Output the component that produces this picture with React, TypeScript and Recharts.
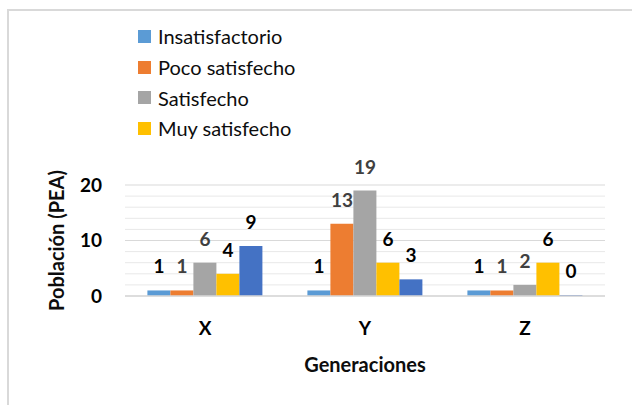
import * as React from "react";
import { BarChart, Bar, XAxis, YAxis, CartesianGrid, LabelList, Legend } from "recharts";

const generations = ["X", "Y", "Z"];
const insatisfactorio = [1, 1, 1];
const pocoSatisfecho = [1, 13, 1];
const satisfecho = [6, 19, 2];
const muySatisfecho = [4, 6, 6];
const sinNombre = [9, 3, 0];

const yDomain = [0, 20];
const yTicks = [0, 10, 20];
const minorTicks = [2, 4, 6, 8, 12, 14, 16, 18];

const FONT = "Lato, 'Open Sans', sans-serif";

const series = [
  { key: "ins", name: "Insatisfactorio", values: insatisfactorio, color: "#5B9BD5", label: "#000000", legend: true },
  { key: "poco", name: "Poco satisfecho", values: pocoSatisfecho, color: "#ED7D31", label: "#404040", legend: true },
  { key: "sat", name: "Satisfecho", values: satisfecho, color: "#A5A5A5", label: "#404040", legend: true },
  { key: "muy", name: "Muy satisfecho", values: muySatisfecho, color: "#FFC000", label: "#000000", legend: true },
  { key: "otro", name: "", values: sinNombre, color: "#4472C4", label: "#000000", legend: false }
];

const data = generations.map((g, i) => {
  const row: Record<string, string | number> = { gen: g };
  series.forEach(s => {
    row[s.key] = s.values[i];
  });
  return row;
});

const LegendBox = () => (
  <div style={{ fontFamily: FONT, fontSize: 20, color: "#0d0d0d" }}>
    {series
      .filter(s => s.legend)
      .map(s => (
        <div key={s.key} style={{ display: "flex", alignItems: "center", height: 30.7 }}>
          <span style={{ width: 13, height: 13, background: s.color, marginRight: 7, display: "inline-block" }} />
          <span>{s.name}</span>
        </div>
      ))}
  </div>
);

// minor gridlines every 2 units
const minorLines = (props: any) => {
  const scale = props?.yAxis?.scale;
  if (typeof scale === "function") {
    const out = minorTicks.map(v => scale(v)).filter((y: any) => typeof y === "number" && !isNaN(y));
    if (out.length) return out;
  }
  const off = props?.offset;
  if (!off) return [];
  return minorTicks.map(v => off.top + off.height * (1 - (v - yDomain[0]) / (yDomain[1] - yDomain[0])));
};

export default function App() {
  const tickStyle = { fontFamily: FONT, fontSize: 19, fontWeight: 700, fill: "#000" };
  const titleStyle = { fontFamily: FONT, fontSize: 20, fontWeight: 700, fill: "#0d0d0d" };
  return (
    <div style={{ position: "absolute", left: 0, top: 0, width: 632, height: 405, overflow: "hidden", background: "#fff" }}>
      <div
        style={{
          position: "absolute",
          left: 7,
          top: 9,
          width: 700,
          height: 500,
          border: "2px solid #d9d9d9",
          boxSizing: "border-box"
        }}
      />
      <div style={{ position: "absolute", left: 0, top: 0 }}>
        <BarChart
          width={632}
          height={405}
          data={data}
          margin={{ top: 185, right: 27, bottom: 29, left: 0 }}
          barCategoryGap="14%"
          barGap={0}
        >
          <CartesianGrid vertical={false} stroke="#e8e8e8" horizontalCoordinatesGenerator={minorLines} />
          <CartesianGrid vertical={false} stroke="#d9d9d9" />
          <XAxis
            dataKey="gen"
            height={80}
            axisLine={{ stroke: "#d9d9d9", strokeWidth: 1.5 }}
            tickLine={false}
            tickSize={0}
            tickMargin={26}
            tick={tickStyle}
            label={{ value: "Generaciones", position: "insideBottom", offset: 4, style: titleStyle }}
          />
          <YAxis
            width={125}
            domain={yDomain}
            ticks={yTicks}
            axisLine={false}
            tickLine={false}
            tickSize={0}
            tickMargin={23}
            tick={tickStyle}
            label={{ value: "Población (PEA)", angle: -90, position: "center", dx: -6, style: titleStyle }}
          />
          <Legend
            content={<LegendBox />}
            layout="horizontal"
            verticalAlign="middle"
            align="center"
            wrapperStyle={{ position: "absolute", left: 138, top: 21, width: 260 }}
          />
          {series.map(s => (
            <Bar
              key={s.key}
              dataKey={s.key}
              name={s.name}
              fill={s.color}
              minPointSize={s.legend ? 0 : 1}
              legendType={s.legend ? "square" : "none"}
              isAnimationActive={false}
            >
              <LabelList
                dataKey={s.key}
                position="top"
                offset={17}
                style={{ fontFamily: FONT, fontSize: 19, fontWeight: 700, fill: s.label }}
              />
            </Bar>
          ))}
        </BarChart>
      </div>
    </div>
  );
}
